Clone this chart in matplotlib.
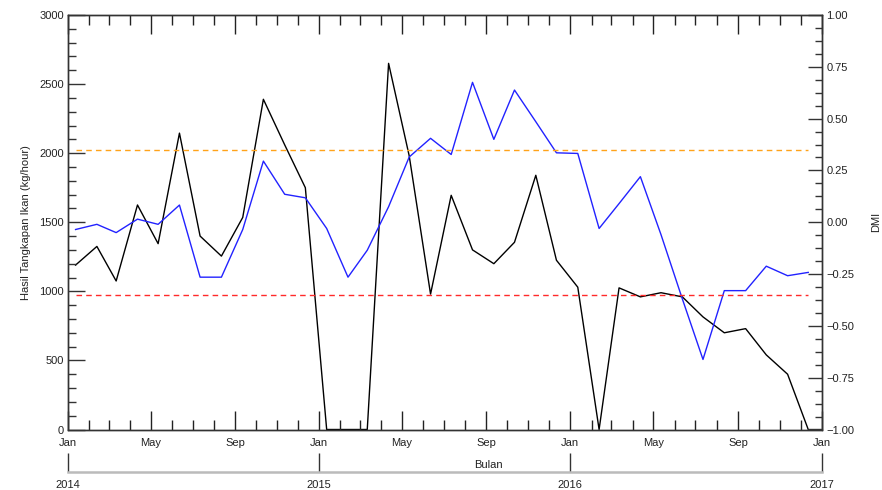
import numpy as np
import pandas as pd
import matplotlib
matplotlib.use("Agg")
import matplotlib.pyplot as plt
import matplotlib.dates as mdates
from matplotlib.ticker import MultipleLocator

# monthly data, Jan 2014 - Dec 2016 (points sit ~12th of each month)
bulan = pd.date_range("2014-01-01", periods=36, freq="MS") + pd.Timedelta(days=11)

# fish catch (kg/hour), left axis
tangkapan = [1190, 1325, 1075, 1625, 1345, 2145, 1400, 1255, 1535, 2390, 2060, 1750,
             0, 0, 0, 2650, 1980, 980, 1695, 1300, 1200, 1355, 1840, 1225,
             1030, 0, 1025, 960, 990, 960, 815, 700, 730, 540, 400, 0]

# DMI, right axis
dmi = [-0.035, -0.010, -0.050, 0.015, -0.010, 0.083, -0.265, -0.265, -0.035, 0.295, 0.135, 0.118,
       -0.030, -0.265, -0.135, 0.075, 0.315, 0.405, 0.327, 0.675, 0.400, 0.638, 0.485, 0.335,
       0.332, -0.030, 0.090, 0.220, -0.060, -0.370, -0.662, -0.330, -0.330, -0.212, -0.258, -0.242]

dmi_batas = [0.35, -0.35]
batas_warna = ["#ffa31a", "#ff2a2a"]

plt.rcParams['font.family'] = ['Liberation Sans', 'DejaVu Sans']
txt = "#222222"

fig = plt.figure(figsize=(8.82, 4.9), dpi=100)
ax = fig.add_axes([68 / 882, 1 - 429.5 / 490, 754 / 882, 414.5 / 490])
ax2 = ax.twinx()

ax.plot(bulan, tangkapan, color="black", lw=1.0, zorder=1)
ax2.plot(bulan, dmi, color="#2222ff", lw=1.0)
for val, col in zip(dmi_batas, batas_warna):
    ax2.plot([bulan[0], bulan[-1]], [val, val], color=col, lw=1.0, dashes=(4, 3))

ax.set_xlim(pd.Timestamp("2014-01-01"), pd.Timestamp("2017-01-01"))
ax.set_ylim(0, 3000)
ax2.set_ylim(-1, 1)

# x ticks: months
ax.xaxis.set_major_locator(mdates.MonthLocator(bymonth=[1, 5, 9]))
ax.xaxis.set_minor_locator(mdates.MonthLocator())
ax.xaxis.set_major_formatter(mdates.DateFormatter("%b"))
ax.tick_params(axis="x", which="both", direction="in", top=True, bottom=True, color="#222222")
ax.tick_params(axis="x", which="major", length=14, width=1, pad=6, labelsize=8, labelcolor=txt)
ax.tick_params(axis="x", which="minor", length=7.5, width=1)

# left y
ax.yaxis.set_major_locator(MultipleLocator(500))
ax.yaxis.set_minor_locator(MultipleLocator(100))
ax.tick_params(axis="y", which="both", direction="in", right=False, color="#333333")
ax.tick_params(axis="y", which="major", length=12, width=1, pad=3, labelsize=8, labelcolor=txt)
ax.tick_params(axis="y", which="minor", length=6, width=1)
ax.set_ylabel("Hasil Tangkapan Ikan (kg/hour)", fontsize=8, color=txt, labelpad=6)

# right y
ax2.yaxis.set_major_locator(MultipleLocator(0.25))
ax2.yaxis.set_minor_locator(MultipleLocator(0.0625))
ax2.yaxis.set_major_formatter(plt.FuncFormatter(lambda v, p: f"{v:.2f}".replace("-", "\u2212")))
ax2.tick_params(axis="y", which="both", direction="in", color="#333333")
ax2.tick_params(axis="y", which="major", length=10, width=1, pad=3, labelsize=8, labelcolor=txt)
ax2.tick_params(axis="y", which="minor", length=5, width=1)
ax2.set_ylabel("DMI", fontsize=8, color=txt, labelpad=12)

for a in (ax, ax2):
    for s in a.spines.values():
        s.set_color("#333333")
        s.set_linewidth(1.0)
        s.set_zorder(3)

# secondary axis for years
sec = ax.secondary_xaxis(-0.1025)
sec.xaxis.set_major_locator(mdates.YearLocator())
sec.xaxis.set_major_formatter(mdates.DateFormatter("%Y"))
sec.tick_params(axis="x", direction="in", length=14, width=1, color="#333333",
                pad=6, labelsize=8, labelcolor=txt)
sec.spines["bottom"].set_color("#bbbbbb")
sec.spines["bottom"].set_linewidth(1.8)

fig.text(488 / 882, 1 - 465 / 490, "Bulan", fontsize=8, color=txt, ha="center", va="center")

fig.savefig("out.png", dpi=100)
